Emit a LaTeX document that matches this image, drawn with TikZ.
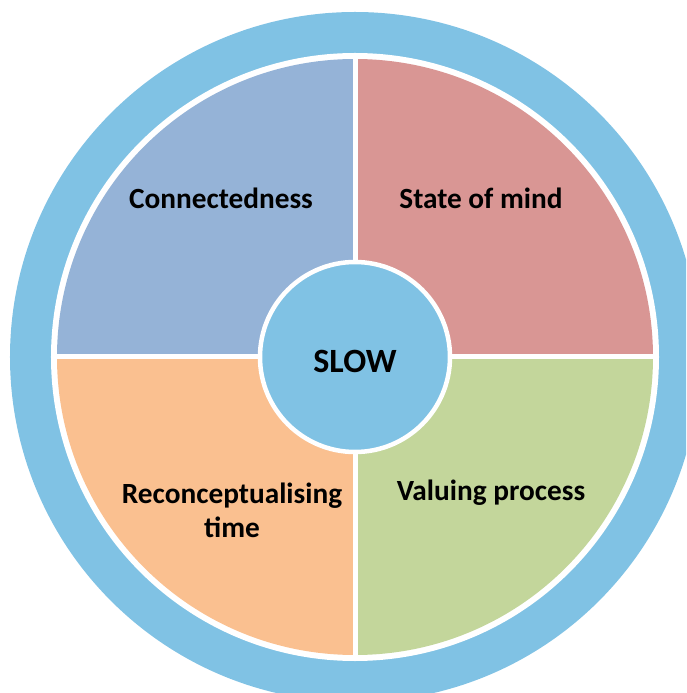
\documentclass[tikz,border=0pt]{standalone}
\usepackage{fontspec}
\setmainfont{Carlito}
\definecolor{ringblue}{RGB}{128,194,228}
\definecolor{secblue}{RGB}{149,179,215}
\definecolor{secred}{RGB}{217,150,148}
\definecolor{secgreen}{RGB}{195,214,155}
\definecolor{secorange}{RGB}{250,192,144}
\tikzset{
  quarter/.style={draw=none},
  label text/.style={font=\fontsize{29.3}{34}\selectfont\bfseries, text=black, align=center},
}
\begin{document}
\begin{tikzpicture}[x=1pt,y=1pt]
  \useasboundingbox (-355,-336) rectangle (331,357);
  \clip (-355,-336) rectangle (331,357);
  % outer ring and white separation
  \fill[ringblue] (0,0) circle (345);
  \fill[white] (0,0) circle (304);
  % four quarters
  \fill[quarter, secblue]   (0,0) -- (180:298) arc (180:90:298) -- cycle;
  \fill[quarter, secred]    (0,0) -- (90:298) arc (90:0:298) -- cycle;
  \fill[quarter, secgreen]  (0,0) -- (0:298) arc (360:270:298) -- cycle;
  \fill[quarter, secorange] (0,0) -- (270:298) arc (270:180:298) -- cycle;
  % white gaps between quarters
  \draw[white, line width=5] (-300,0) -- (300,0);
  \draw[white, line width=5] (0,-300) -- (0,300);
  % centre disc
  \node[circle, fill=ringblue, draw=white, line width=4.5, minimum size=190] (slow) at (0,0) {};
  \node[label text, font=\fontsize{34}{40}\selectfont\bfseries] (slowtext) at (0,-4) {SLOW};
  % quarter labels
  \node[label text] (conn)  at (-134,159) {Connectedness};
  \node[label text] (state) at (126,159) {State of mind};
  \node[label text] (recon) at (-123,-153) {Reconceptualising\\time};
  \node[label text] (value) at (136,-136) {Valuing process};
\end{tikzpicture}
\end{document}
